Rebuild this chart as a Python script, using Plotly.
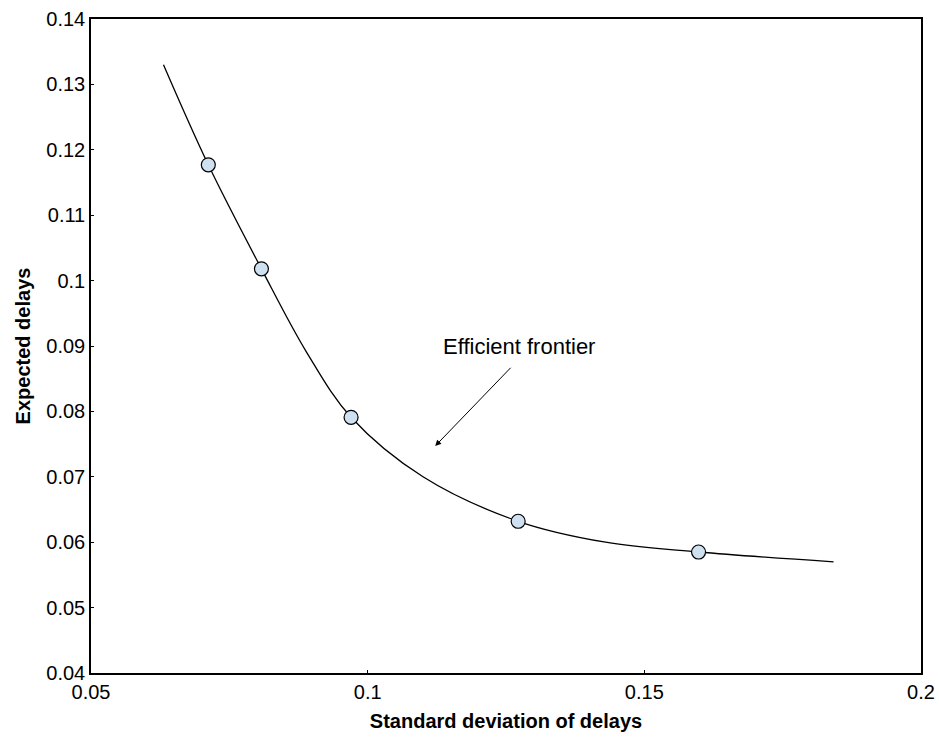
import plotly.graph_objects as go

# Efficient frontier curve
curve_x = [0.0631, 0.0712, 0.0808, 0.0890, 0.0970, 0.1100, 0.1272, 0.1430, 0.1598, 0.1842]
curve_y = [0.1330, 0.1177, 0.1018, 0.0890, 0.0791, 0.0700, 0.0632, 0.0600, 0.0585, 0.0570]

# Highlighted portfolios
pts_x = [0.0712, 0.0808, 0.0970, 0.1272, 0.1598]
pts_y = [0.1177, 0.1018, 0.0791, 0.0632, 0.0585]

x_ticks = [0.05, 0.1, 0.15, 0.2]
y_ticks = [0.04, 0.05, 0.06, 0.07, 0.08, 0.09, 0.1, 0.11, 0.12, 0.13, 0.14]

FONT = "Liberation Sans, Arial, sans-serif"

fig = go.Figure()
fig.add_trace(go.Scatter(x=curve_x, y=curve_y, mode="lines",
                         line=dict(color="black", width=1.3, shape="spline", smoothing=1.0),
                         showlegend=False, hoverinfo="skip"))
fig.add_trace(go.Scatter(x=pts_x, y=pts_y, mode="markers",
                         marker=dict(size=14, color="#cfe0f1", line=dict(color="black", width=1.2)),
                         showlegend=False))

fig.add_annotation(x=0.1122, y=0.0747, ax=0.1261, ay=0.0869, xref="x", yref="y",
                   axref="x", ayref="y", showarrow=True, arrowhead=2, arrowsize=1.2,
                   arrowwidth=1, arrowcolor="black", text="")
fig.add_annotation(x=0.1274, y=0.0900, xref="x", yref="y", showarrow=False,
                   text="Efficient frontier", font=dict(family=FONT, size=22, color="black"))

fig.update_layout(
    width=939, height=740,
    margin=dict(l=91, r=18, t=19, b=67),
    plot_bgcolor="white", paper_bgcolor="white",
    font=dict(family=FONT, size=20, color="black"),
    xaxis=dict(range=[0.05, 0.2], tickvals=x_ticks, ticktext=[f"{v:g}" for v in x_ticks],
               showgrid=False, zeroline=False, showline=True, linecolor="black", linewidth=1.5,
               mirror=True, ticks="inside", ticklen=3, tickcolor="black", automargin=False,
               ticklabeloverflow="allow",
               title=dict(text="<b>Standard deviation of delays</b>", font=dict(size=20), standoff=12)),
    yaxis=dict(range=[0.04, 0.14], tickvals=y_ticks, ticktext=[f"{v:g}" for v in y_ticks],
               showgrid=False, zeroline=False, showline=True, linecolor="black", linewidth=1.5,
               mirror=True, ticks="inside", ticklen=3, tickcolor="black", automargin=False,
               title=dict(text="<b>Expected delays</b>", font=dict(size=20), standoff=10)),
)

fig.write_html("out.html", config={"displayModeBar": False},
               post_script="document.body.style.margin='0';document.body.style.overflow='hidden';")
